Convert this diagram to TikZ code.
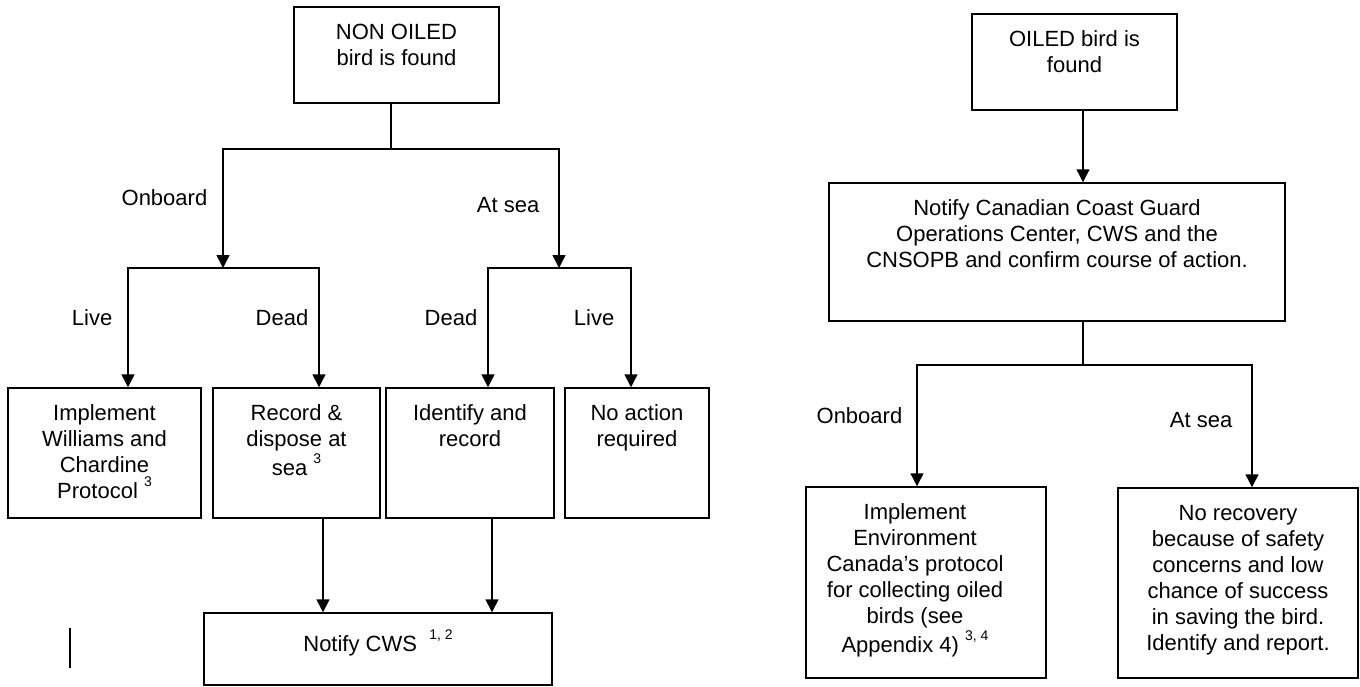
\documentclass[tikz,border=0pt]{standalone}
\usepackage{fontspec}
\setmainfont{Liberation Sans}
\usepackage{tikz}
\usetikzlibrary{calc, positioning, arrows.meta}
\newcommand{\fnref}[1]{\raisebox{0.55em}{\fontsize{7}{7}\selectfont #1}}

\begin{document}
\begin{tikzpicture}[x=0.5pt, y=-0.5pt, >={Triangle[width=6.5pt,length=6.5pt]},
  line width=0.75pt, font=\fontsize{11}{13}\selectfont,
  box/.style={draw, rectangle, inner sep=0pt},
  txt/.style={align=center, inner sep=0pt, anchor=north},
  lbl/.style={inner sep=0pt, anchor=east}]
  \useasboundingbox (0,0) rectangle (1360,686);

  % Non oiled bird
  \node[box, minimum width=102.5pt, minimum height=48pt] (nonoiled) at (396.5,55) {};
  \node[txt] (nonoiledT) at ([yshift=-8.5pt]nonoiled.north) {NON OILED\\bird is found};

  \node[box, minimum width=96.5pt, minimum height=65pt] (implw) at (104.5,453) {};
  \node[box, minimum width=83.5pt, minimum height=65pt] (recdisp) at (296.5,453) {};
  \node[box, minimum width=84pt, minimum height=65pt] (identrec) at (470,453) {};
  \node[box, minimum width=72pt, minimum height=65pt] (noaction) at (637,453) {};
  \node[box, minimum width=174pt, minimum height=36pt] (notifycws) at (378,649) {};

  \node[txt] (implwT) at ([yshift=-8.5pt]implw.north)
    {Implement\\Williams and\\Chardine\\Protocol \fnref{3}};
  \node[txt] (recdispT) at ([yshift=-8.5pt]recdisp.north)
    {Record \&\\dispose at\\sea \fnref{3}};
  \node[txt] (identrecT) at ([yshift=-8.5pt]identrec.north) {Identify and\\record};
  \node[txt] (noactionT) at ([yshift=-8.5pt]noaction.north) {No action\\required};
  \node[txt] (notifycwsT) at ([yshift=-8.5pt]notifycws.north)
    {Notify CWS~~\fnref{1, 2}};

  \coordinate (nsplit) at (391,149);
  \coordinate (obsplit) at (223,268);
  \coordinate (assplit) at (559,268);

  \draw (nonoiled.south -| nsplit) -- (nsplit);
  \draw[->] (nsplit) -| (obsplit);
  \draw[->] (nsplit) -| (assplit);
  \draw[->] (obsplit) -| ([xshift=11.75pt]implw.north);
  \draw[->] (obsplit) -| ([xshift=11.25pt]recdisp.north);
  \draw[->] (assplit) -| ([xshift=9pt]identrec.north);
  \draw[->] (assplit) -| ([xshift=-3pt]noaction.north);
  \draw[->] ([xshift=13.25pt]recdisp.south) -- ([xshift=13.25pt]recdisp.south |- notifycws.north);
  \draw[->] ([xshift=11pt]identrec.south) -- ([xshift=11pt]identrec.south |- notifycws.north);

  \node[lbl] (onboardL) at (208,198) {Onboard};
  \node[lbl] (atseaL) at (540,205) {At sea};
  \node[lbl] (liveL) at (113,318) {Live};
  \node[lbl] (deadL) at (309,318) {Dead};
  \node[lbl] (deadR) at (478,318) {Dead};
  \node[lbl] (liveR) at (615,318) {Live};

  \draw (70,628) -- (70,668);

  % Oiled bird
  \node[box, minimum width=102.5pt, minimum height=48pt] (oiled) at (1074.5,62) {};
  \node[txt] (oiledT) at ([yshift=-8.5pt]oiled.north) {OILED bird is\\found};
  \node[box, minimum width=228pt, minimum height=69pt] (notifyccg) at (1057,252) {};
  \node[txt] (notifyccgT) at ([yshift=-8.5pt]notifyccg.north)
    {Notify Canadian Coast Guard\\Operations Center, CWS and the\\CNSOPB and confirm course of action.};

  \node[box, minimum width=120pt, minimum height=95.5pt] (implec) at (926,582.5) {};
  \node[txt] (implecT) at ([xshift=-5.5pt, yshift=-8.5pt]implec.north)
    {Implement\\Environment\\Canada's protocol\\for collecting oiled\\birds (see\\Appendix 4) \fnref{3, 4}};
  \node[box, minimum width=120pt, minimum height=95pt] (norecov) at (1238,583) {};
  \node[txt] (norecovT) at ([yshift=-8.5pt]norecov.north)
    {No recovery\\because of safety\\concerns and low\\chance of success\\in saving the bird.\\Identify and report.};

  \coordinate (osplit) at (1083,365);
  \draw[->] ([xshift=4.25pt]oiled.south) -- ([xshift=4.25pt]oiled.south |- notifyccg.north);
  \draw (notifyccg.south -| osplit) -- (osplit);
  \draw[->] (osplit) -| ([xshift=-4.5pt]implec.north);
  \draw[->] (osplit) -| ([xshift=7pt]norecov.north);

  \node[lbl] (onboardO) at (903,416) {Onboard};
  \node[lbl] (atseaO) at (1233,420) {At sea};
\end{tikzpicture}
\end{document}
